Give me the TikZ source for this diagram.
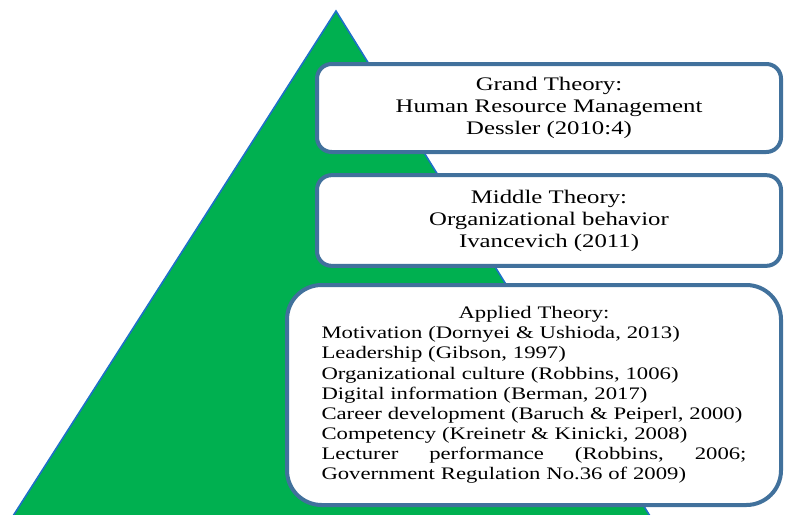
\documentclass[tikz,border=0pt]{standalone}
\usepackage{fontspec}
\setmainfont[FakeStretch=1.29]{Liberation Serif}
\usetikzlibrary{positioning}
\definecolor{pyramid}{RGB}{0,176,80}
\definecolor{pyramidline}{RGB}{30,112,200}
\definecolor{boxline}{RGB}{65,113,156}

\begin{document}
\begin{tikzpicture}[
    x=0.75pt, y=-0.75pt,
    theory/.style={rectangle, draw=boxline, line width=3pt, fill=white, align=center, inner sep=0pt},
    upper/.style={theory, rounded corners=11pt, minimum width=348pt, font=\fontsize{14.4}{16.5}\selectfont},
    lower/.style={theory, rounded corners=26pt, minimum width=370.5pt, minimum height=165pt,
        text width=318.75pt, align=left, font=\fontsize{13.2}{15.1}\selectfont}
]
\useasboundingbox (0,0) rectangle (785,514);
\clip (0,0) rectangle (785,514);

% pyramid behind the three levels
\filldraw[fill=pyramid, draw=pyramidline, line width=1.2pt] (336,11) -- (650,516) -- (13,516) -- cycle;

\node[upper, minimum height=66pt] (grand) at (549,108)
    {Grand Theory:\\Human Resource Management\\Dessler (2010:4)};
\node[upper, minimum height=68pt] (middle) at (549,220.5)
    {Middle Theory:\\Organizational behavior\\Ivancevich (2011)};
\node[lower] (applied) at (534,395)
    {\makebox[\linewidth]{Applied Theory:}\\
     Motivation (Dornyei \& Ushioda, 2013)\\
     Leadership (Gibson, 1997)\\
     Organizational culture (Robbins, 1006)\\
     Digital information (Berman, 2017)\\
     Career development (Baruch \& Peiperl, 2000)\\
     Competency (Kreinetr \& Kinicki, 2008)\\
     \makebox[\linewidth]{Lecturer\hfill performance\hfill (Robbins,\hfill 2006;}\\
     Government Regulation No.36 of 2009)};

\end{tikzpicture}
\end{document}
